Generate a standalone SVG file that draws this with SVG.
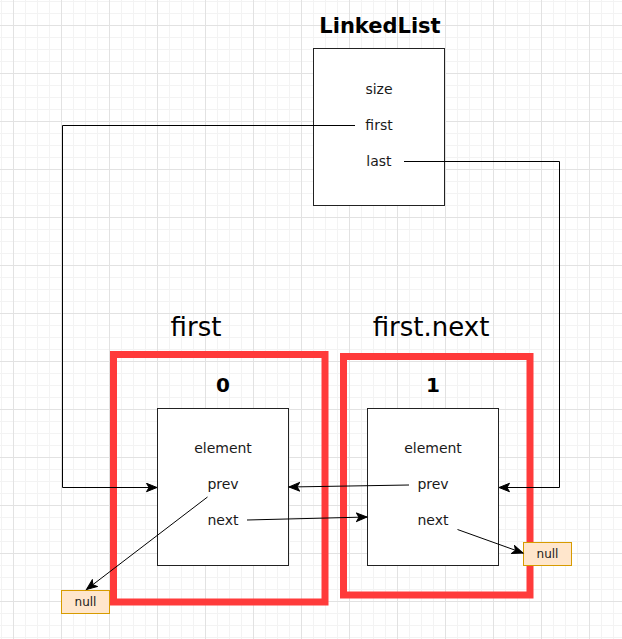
<svg xmlns="http://www.w3.org/2000/svg" width="622" height="639" viewBox="0 0 622 639">
<style>
.box{fill:#ffffff;stroke:#222222;stroke-width:1}
.red{fill:none;stroke:#ff3b3b;stroke-width:7}
.nul{fill:#ffe6cc;stroke:#d79b00;stroke-width:1}
.t{font-family:"DejaVu Sans",sans-serif;font-size:14px;fill:#1a1a1a;text-anchor:middle}
.tn{font-family:"DejaVu Sans",sans-serif;font-size:12px;fill:#1a1a1a;text-anchor:middle}
.tb{font-family:"DejaVu Sans",sans-serif;font-size:20px;font-weight:bold;fill:#000;text-anchor:middle}
.tl{font-family:"DejaVu Sans",sans-serif;font-size:26px;fill:#000;text-anchor:middle}
.c{fill:none;stroke:#000;stroke-width:1}
.ca{fill:none;stroke:#000;stroke-width:1;marker-end:url(#arr)}
</style>
<defs>
<pattern id="grid" x="13" y="25" width="48" height="48" patternUnits="userSpaceOnUse">
<rect x="12" y="0" width="1" height="48" fill="#f3f3f3"/>
<rect x="24" y="0" width="1" height="48" fill="#f3f3f3"/>
<rect x="36" y="0" width="1" height="48" fill="#f3f3f3"/>
<rect x="0" y="12" width="48" height="1" fill="#f3f3f3"/>
<rect x="0" y="24" width="48" height="1" fill="#f3f3f3"/>
<rect x="0" y="36" width="48" height="1" fill="#f3f3f3"/>
<rect x="0" y="0" width="1" height="48" fill="#e2e2e2"/>
<rect x="0" y="0" width="48" height="1" fill="#e2e2e2"/>
</pattern>
<marker id="arr" markerUnits="userSpaceOnUse" markerWidth="13" markerHeight="11" refX="11" refY="5" orient="auto" viewBox="0 0 13 11">
<path d="M0.5,0.8 L11,5 L0.5,9.2 L3,5 Z" fill="#000" stroke="#000" stroke-width="1" stroke-linejoin="miter"/>
</marker>
</defs>
<rect x="0" y="0" width="622" height="639" fill="#ffffff"/>
<rect x="0" y="0" width="622" height="639" fill="url(#grid)"/>

<g id="linkedlist">
<text class="tb" x="380" y="33" style="font-size:21px">LinkedList</text>
<rect class="box" x="313.5" y="48.5" width="131" height="157"/>
<text class="t" x="379" y="94">size</text>
<text class="t" x="379" y="130">first</text>
<text class="t" x="379" y="166">last</text>
</g>

<g id="label-first"><text class="tl" x="196" y="336">first</text></g>
<g id="label-firstnext"><text class="tl" x="431" y="336">first.next</text></g>

<g id="frame0"><rect class="red" x="113.5" y="354.5" width="211.5" height="247.5"/></g>
<g id="frame1"><rect class="red" x="343.5" y="356.5" width="186.5" height="238.5"/></g>

<g id="node0">
<text class="tb" x="223" y="392">0</text>
<rect class="box" x="157.5" y="408.5" width="131" height="157"/>
<text class="t" x="223" y="453">element</text>
<text class="t" x="223" y="489">prev</text>
<text class="t" x="223" y="525">next</text>
</g>

<g id="node1">
<text class="tb" x="433" y="392">1</text>
<rect class="box" x="367.5" y="408.5" width="131" height="157"/>
<text class="t" x="433" y="453">element</text>
<text class="t" x="433" y="489">prev</text>
<text class="t" x="433" y="525">next</text>
</g>

<g id="null0">
<rect class="nul" x="61.5" y="590.5" width="48" height="23"/>
<text class="tn" x="85.5" y="606">null</text>
</g>
<g id="null1">
<rect class="nul" x="523.5" y="542.5" width="48" height="23"/>
<text class="tn" x="547.5" y="558">null</text>
</g>

<g id="connectors">
<path class="ca" d="M355,125.5 H62.5 V487.5 H157"/>
<path class="ca" d="M404,161.5 H559.5 V487.5 H499"/>
<path class="ca" d="M409,485 L289,487"/>
<path class="ca" d="M247,520 L367,517"/>
<path class="ca" d="M207.5,497 L86.5,589.5"/>
<path class="ca" d="M457.5,529.5 L523,553"/>
</g>
</svg>
